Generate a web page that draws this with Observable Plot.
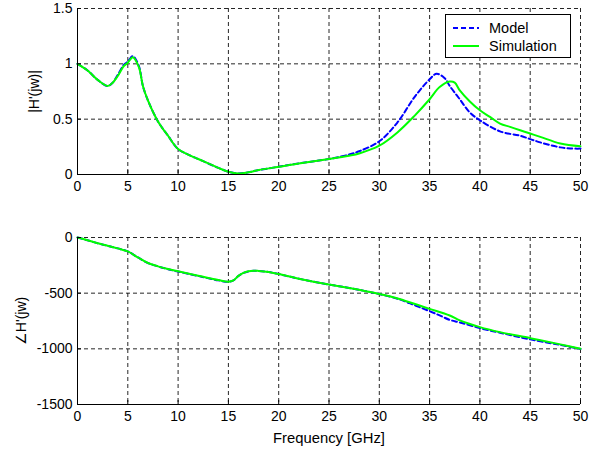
<!DOCTYPE html>
<html>
<head>
<meta charset="utf-8">
<script src="https://cdn.jsdelivr.net/npm/d3@7"></script>
<script src="https://cdn.jsdelivr.net/npm/@observablehq/plot@0.6"></script>
<style>
  html, body { margin: 0; padding: 0; background: #fff; }
  #wrap { position: relative; width: 594px; height: 450px; font-family: "Liberation Sans", Arial, sans-serif; }
  #legend { position: absolute; left: 445px; top: 14px; width: 124px; height: 42px; border: 1px solid #000; background: #fff; font-size: 14.5px; }
  #legend .row { position: absolute; left: 0; height: 18px; display: flex; align-items: center; }
  #legend svg { margin-left: 7px; margin-right: 10px; }
</style>
</head>
<body>
<div id="wrap"></div>
<script>
// ---- data ----
const magModelF = [0,1,2,3,3.5,4,4.6,5,5.5,6.1,6.5,7,8,9,10,11,12,14,15,16,17,18,20,22,25,27,28,30,31.8,33.5,35,35.7,36.5,37,38,39,40,42,44,45,46,48,49,50];
const magModelV = [1.0,0.94,0.855,0.80,0.83,0.90,0.99,1.02,1.07,0.98,0.80,0.67,0.48,0.35,0.23,0.18,0.14,0.06,0.025,0.01,0.02,0.04,0.07,0.10,0.14,0.18,0.21,0.30,0.47,0.70,0.86,0.91,0.87,0.80,0.68,0.56,0.49,0.39,0.35,0.32,0.29,0.245,0.235,0.234];
const magSimF = [0,1,2,3,3.5,4,4.6,5,5.5,6.1,6.5,7,8,9,10,11,12,14,15,16,17,18,20,22,25,27,28,30,31.8,33.5,35,36,37,37.5,38,39,40,41,42,43,44,45,46,48,50];
const magSimV = [1.0,0.94,0.855,0.80,0.83,0.89,0.98,1.01,1.06,0.97,0.80,0.67,0.48,0.35,0.23,0.18,0.14,0.06,0.025,0.01,0.02,0.04,0.07,0.10,0.14,0.17,0.19,0.26,0.38,0.53,0.68,0.79,0.84,0.83,0.76,0.66,0.58,0.52,0.46,0.43,0.40,0.37,0.34,0.28,0.255];
const phSimF = [0,1,2,3,4,5,6,7,8,9,10,12,14,15,15.5,16,16.5,17,17.5,18,19,20,22,25,27,30,32,34,35,37,38,40,42,45,48,50];
const phSimV = [0,-25,-52,-74,-98,-125,-179,-229,-259,-283,-304,-343,-382,-397,-385,-345,-318,-304,-298,-300,-310,-328,-370,-423,-453,-507,-552,-611,-641,-701,-745,-805,-850,-904,-960,-1000];
const phModF = [0,1,2,3,4,5,6,7,8,9,10,12,14,15,15.5,16,16.5,17,17.5,18,19,20,22,25,27,30,32,33,34,35,36,37,38,40,42,45,48,50];
const phModV = [0,-25,-52,-74,-98,-125,-179,-229,-259,-285,-306,-346,-385,-398,-385,-345,-318,-304,-298,-300,-310,-328,-370,-423,-453,-508,-555,-590,-626,-662,-700,-740,-763,-814,-855,-915,-965,-1002];
const xTicks = [0,5,10,15,20,25,30,35,40,45,50];
const magTicks = [0,0.5,1,1.5];
const phTicks = [0,-500,-1000,-1500];
const legendLabels = ["Model", "Simulation"];

const zip = (f, v) => f.map((x, i) => ({f: x, v: v[i]}));
const magModel = zip(magModelF, magModelV);
const magSim = zip(magSimF, magSimV);
const phModel = zip(phModF, phModV);
const phSim = zip(phSimF, phSimV);

const BLUE = "#0000ff", GREEN = "#00ff00";
const W = 594, ML = 77, MR = 14;
const style = {fontFamily: "'Liberation Sans', Arial, sans-serif", fontSize: "14px", background: "white", color: "black", overflow: "visible"};
const grid = {stroke: "#000", strokeOpacity: 0.85, strokeWidth: 1, strokeDasharray: "4,3"};

function panel({height, marginTop, marginBottom, yDomain, yTicks, yLabel, xLabel, model, sim, yBase, yLabelOffset}) {
  const fh = height - marginTop - marginBottom;
  const fw = W - ML - MR;
  const marks = [
    Plot.gridX(xTicks, grid),
    Plot.gridY(yTicks, grid),
    Plot.line(model, {x: "f", y: "v", stroke: BLUE, strokeWidth: 2, strokeDasharray: "5,3", curve: "catmull-rom"}),
    Plot.line(sim, {x: "f", y: "v", stroke: GREEN, strokeWidth: 2, curve: "catmull-rom"}),
    Plot.ruleX([0], {stroke: "#000", strokeWidth: 1}),
    Plot.ruleY([yBase], {stroke: "#000", strokeWidth: 1}),
    Plot.tickX(xTicks, {x: d => d, stroke: "#000", insetTop: fh - 4}),
    Plot.tickY(yTicks, {y: d => d, stroke: "#000", insetRight: fw - 4}),
    Plot.axisX(xTicks, {tickSize: 0, tickPadding: 7, label: null, fontSize: 14}),
    Plot.axisY(yTicks, {tickSize: 0, tickPadding: 5, label: yLabel, labelAnchor: "center", labelArrow: "none", labelOffset: yLabelOffset, fontSize: 14, tickFormat: d => String(d)})
  ];
  if (xLabel) marks.push(Plot.axisX([], {tickSize: 0, label: xLabel, labelAnchor: "center", labelArrow: "none", labelOffset: 38, fontSize: 14.8}));
  return Plot.plot({
    width: W, height, marginTop, marginBottom, marginLeft: ML, marginRight: MR,
    style,
    x: {domain: [0, 50], ticks: xTicks},
    y: {domain: yDomain, ticks: yTicks},
    marks
  });
}

const wrap = document.getElementById("wrap");
const topPlot = panel({height: 200, marginTop: 8, marginBottom: 26, yDomain: [0, 1.5], yTicks: magTicks, yLabel: "|H'(jw)|", xLabel: null, model: magModel, sim: magSim, yBase: 0, yLabelOffset: 48});
const botPlot = panel({height: 250, marginTop: 37, marginBottom: 46, yDomain: [-1500, 0], yTicks: phTicks, yLabel: "∠H'(jw)", xLabel: "Frequency [GHz]", model: phModel, sim: phSim, yBase: -1500, yLabelOffset: 61});
topPlot.style.display = "block";
botPlot.style.display = "block";
wrap.appendChild(topPlot);
wrap.appendChild(botPlot);

// legend
const leg = document.createElement("div");
leg.id = "legend";
const styles = [{stroke: BLUE, dash: "5,3"}, {stroke: GREEN, dash: null}];
legendLabels.forEach((lab, i) => {
  const row = document.createElement("div");
  row.className = "row";
  row.style.top = (4 + i * 18) + "px";
  const s = styles[i];
  row.innerHTML = `<svg width="26" height="6"><line x1="0" x2="26" y1="3" y2="3" stroke="${s.stroke}" stroke-width="2" ${s.dash ? `stroke-dasharray="${s.dash}"` : ""}/></svg><span>${lab}</span>`;
  leg.appendChild(row);
});
wrap.appendChild(leg);
</script>
</body>
</html>
